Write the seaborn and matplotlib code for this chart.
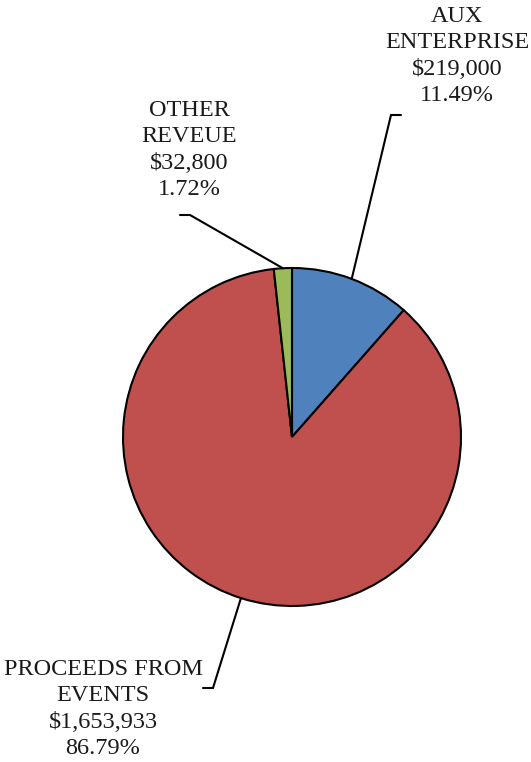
import numpy as np
import matplotlib
matplotlib.use("Agg")
import matplotlib.pyplot as plt
import seaborn as sns

categories = ["AUX\nENTERPRISE", "PROCEEDS FROM\nEVENTS", "OTHER\nREVEUE"]
values = [219000, 1653933, 32800]
colors = ["#4F81BD", "#C0504D", "#9BBB59"]

sns.set_style("white")
plt.rcParams['font.family'] = ['Liberation Serif', 'DejaVu Serif']

W, H = 531, 762
fig = plt.figure(figsize=(W / 100, H / 100), dpi=100)
ax = fig.add_axes([0, 0, 1, 1])

cx, cy, r = 292, H - 437, 169
wedges, _ = ax.pie(values, colors=colors, startangle=90, counterclock=False,
                   center=(cx, cy), radius=r, frame=True,
                   wedgeprops=dict(edgecolor="black", linewidth=1.5))
ax.set_xlim(0, W)
ax.set_ylim(0, H)
ax.axis("off")

total = sum(values)
# label anchor (text center x, text top y in image px), leader elbow (x, y), tick end x
label_pos = [(457, 6), (103, 659), (189, 100)]
elbows = [((391, 115), 401), ((213, 688), 203), ((190, 215), 180)]

for w, cat, v, (lx, ly), ((ex, ey), tx) in zip(wedges, categories, values, label_pos, elbows):
    mid = np.deg2rad((w.theta1 + w.theta2) / 2)
    px, py = cx + r * np.cos(mid), cy + r * np.sin(mid)
    ax.plot([px, ex, tx], [py, H - ey, H - ey], color="black", lw=1.5,
            solid_joinstyle="miter")
    txt = f"{cat}\n${v:,}\n{v / total * 100:.2f}%"
    ax.text(lx, H - ly, txt, ha="center", va="top", fontsize=17.5,
            linespacing=1.33, color="#1a1a1a")

fig.savefig("out.png", dpi=100)
